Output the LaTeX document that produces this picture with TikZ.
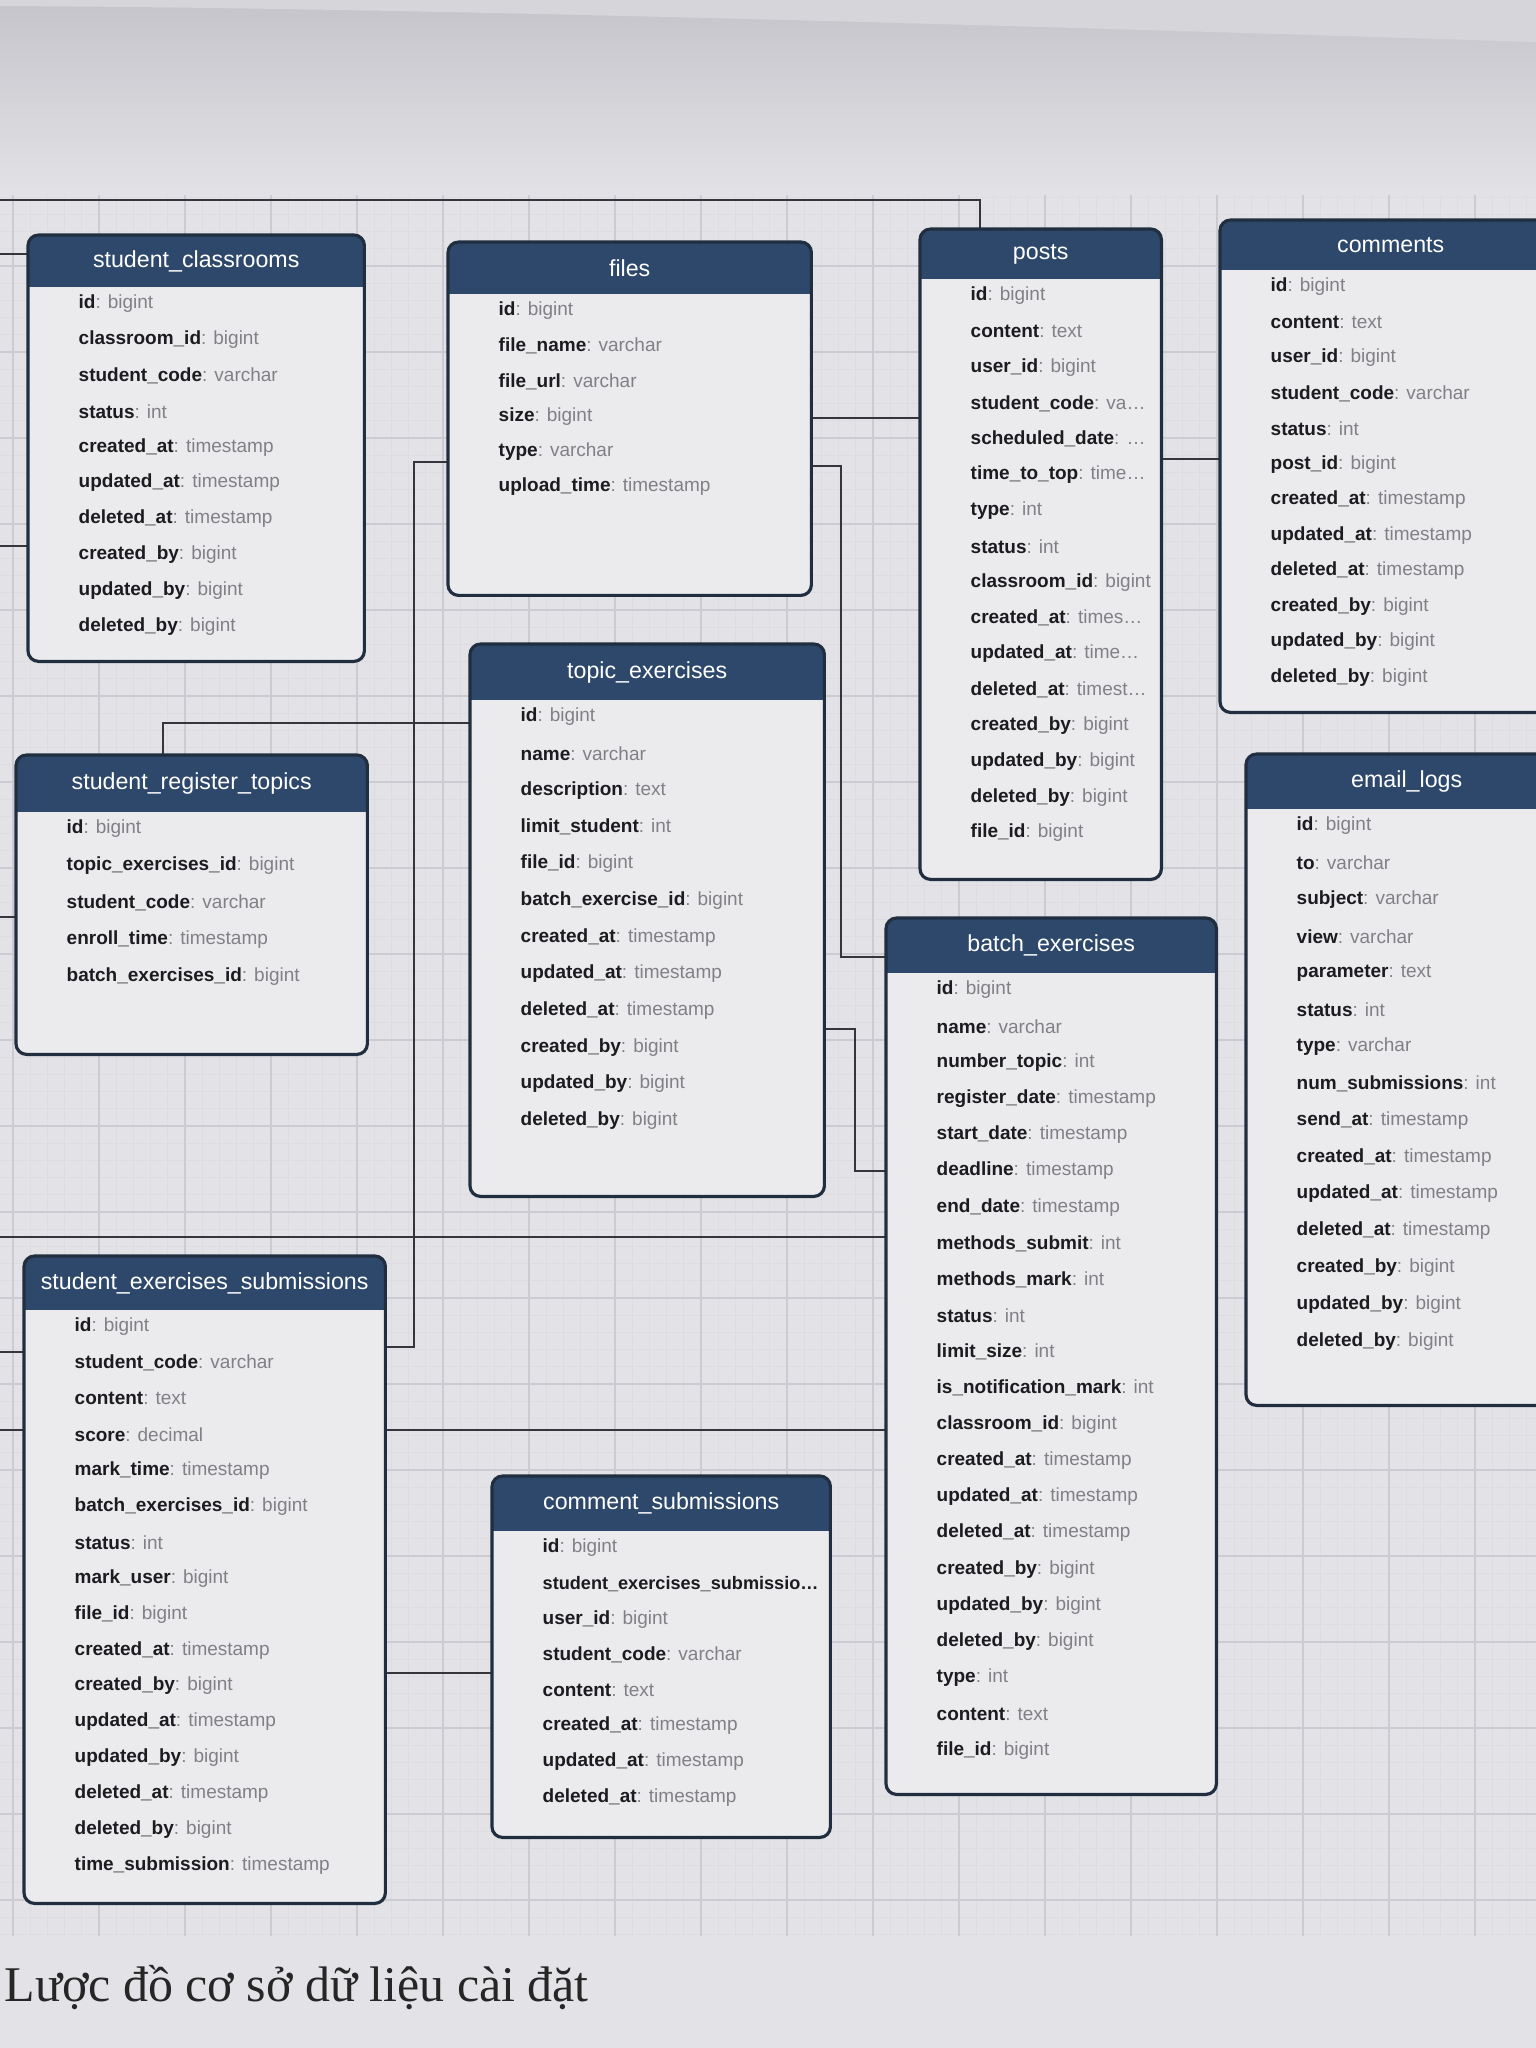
\documentclass[tikz,border=0pt]{standalone}
\usepackage{fontspec}
\setmainfont{Liberation Sans}
\newfontfamily\captionfont{Liberation Serif}
\usetikzlibrary{calc}

\definecolor{paper}{RGB}{227,227,231}
\definecolor{papertop}{RGB}{196,196,202}
\definecolor{paperedge}{RGB}{214,214,218}
\definecolor{boxfill}{RGB}{235,235,238}
\definecolor{headblue}{RGB}{45,72,106}
\definecolor{boxline}{RGB}{33,46,64}
\definecolor{namecol}{RGB}{28,28,32}
\definecolor{typecol}{RGB}{128,128,134}
\definecolor{gridminor}{RGB}{220,220,225}
\definecolor{gridmajor}{RGB}{203,203,209}
\definecolor{wire}{RGB}{52,54,60}

\pgfdeclarelayer{paperlayer}
\pgfdeclarelayer{wirelayer}
\pgfsetlayers{paperlayer,wirelayer,main}

\tikzset{
  tablebox/.style={rectangle, anchor=north west, inner sep=0pt, fill=boxfill, rounded corners=3pt},
  tableline/.style={draw=boxline, line width=0.9pt, rounded corners=3pt},
  tabletitle/.style={text=white, inner sep=0pt, font=\fontsize{6.6}{8}\selectfont},
  fieldtext/.style={anchor=west, inner sep=0pt, font=\fontsize{5.4}{6.5}\selectfont},
  conn/.style={draw=wire, line width=0.6pt},
}

% #1 name, #2 x, #3 y, #4 width, #5 height, #6 header, #7 row step, #8 title, #9 rows
\newcommand{\erdtable}[9]{%
  \node[tablebox, minimum width=#4*0.01cm, minimum height=#5*0.01cm] (#1) at (#2,#3) {};
  \begin{scope}
    \clip[rounded corners=3pt] (#1.north west) rectangle (#1.south east);
    \fill[headblue] (#1.north west) rectangle ($(#1.north east)+(0,#6)$);
  \end{scope}
  \draw[tableline] (#1.north west) rectangle (#1.south east);
  \node[tabletitle] at ($(#1.north)+(0,#6/2)$) {#8};
  \foreach \fname/\ftype [count=\rowno] in {#9}
    \node[fieldtext] at ($(#1.north west)+(50,#6+17+\rowno*#7-#7)$)
      {\textcolor{namecol}{\bfseries\fname}\ifx\ftype\empty\else\textcolor{typecol}{: \ftype}\fi};
}

\begin{document}
\begin{tikzpicture}[x=0.01cm, y=-0.01cm]
  \useasboundingbox (0,0) rectangle (1536,2048);
  \clip (0,0) rectangle (1536,2048);

  % Paper and grid
  \begin{pgfonlayer}{paperlayer}
    \fill[paper] (0,0) rectangle (1536,2048);
    \shade[top color=papertop, bottom color=paper] (0,0) rectangle (1536,200);
    \fill[paperedge] (0,0) -- (1536,0) -- (1536,42) .. controls (900,22) and (400,8) .. (0,6) -- cycle;
    \begin{scope}
      \clip (0,195) rectangle (1536,1935);
      \draw[gridminor, line width=0.3pt, shift={(13,8)}, step={(17.2,-17.2)}] (-86,1978) grid (1600,150);
      \draw[gridmajor, line width=0.5pt, shift={(13,8)}, step={(86,-86)}] (-86,1978) grid (1600,150);
    \end{scope}
  \end{pgfonlayer}

  % Tables
  \erdtable{sc}{28}{235}{335}{425}{52}{35.8}{student\_classrooms}
    {id/bigint, classroom\_id/bigint, student\_code/varchar, status/int, created\_at/timestamp,
     updated\_at/timestamp, deleted\_at/timestamp, created\_by/bigint, updated\_by/bigint, deleted\_by/bigint}
  \erdtable{files}{448}{242}{362}{352}{52}{35.2}{files}
    {id/bigint, file\_name/varchar, file\_url/varchar, size/bigint, type/varchar, upload\_time/timestamp}
  \erdtable{posts}{920}{229}{240}{649}{50}{35.8}{posts}
    {id/bigint, content/text, user\_id/bigint, student\_code/va…, scheduled\_date/…, time\_to\_top/time…,
     type/int, status/int, classroom\_id/bigint, created\_at/times…, updated\_at/time…, deleted\_at/timest…,
     created\_by/bigint, updated\_by/bigint, deleted\_by/bigint, file\_id/bigint}
  \erdtable{comments}{1220}{220}{340}{491}{50}{35.5}{comments}
    {id/bigint, content/text, user\_id/bigint, student\_code/varchar, status/int, post\_id/bigint,
     created\_at/timestamp, updated\_at/timestamp, deleted\_at/timestamp, created\_by/bigint,
     updated\_by/bigint, deleted\_by/bigint}
  \erdtable{srt}{16}{755}{350}{298}{57}{37}{student\_register\_topics}
    {id/bigint, topic\_exercises\_id/bigint, student\_code/varchar, enroll\_time/timestamp,
     batch\_exercises\_id/bigint}
  \erdtable{te}{470}{644}{353}{551}{56}{36.7}{topic\_exercises}
    {id/bigint, name/varchar, description/text, limit\_student/int, file\_id/bigint,
     batch\_exercise\_id/bigint, created\_at/timestamp, updated\_at/timestamp, deleted\_at/timestamp,
     created\_by/bigint, updated\_by/bigint, deleted\_by/bigint}
  \erdtable{be}{886}{918}{329}{875}{55}{36.2}{batch\_exercises}
    {id/bigint, name/varchar, number\_topic/int, register\_date/timestamp, start\_date/timestamp,
     deadline/timestamp, end\_date/timestamp, methods\_submit/int, methods\_mark/int, status/int,
     limit\_size/int, is\_notification\_mark/int, classroom\_id/bigint, created\_at/timestamp,
     updated\_at/timestamp, deleted\_at/timestamp, created\_by/bigint, updated\_by/bigint,
     deleted\_by/bigint, type/int, content/text, file\_id/bigint}
  \erdtable{el}{1246}{754}{320}{650}{55}{36.8}{email\_logs}
    {id/bigint, to/varchar, subject/varchar, view/varchar, parameter/text, status/int, type/varchar,
     num\_submissions/int, send\_at/timestamp, created\_at/timestamp, updated\_at/timestamp,
     deleted\_at/timestamp, created\_by/bigint, updated\_by/bigint, deleted\_by/bigint}
  \erdtable{ses}{24}{1256}{360}{646}{54}{35.9}{student\_exercises\_submissions}
    {id/bigint, student\_code/varchar, content/text, score/decimal, mark\_time/timestamp,
     batch\_exercises\_id/bigint, status/int, mark\_user/bigint, file\_id/bigint, created\_at/timestamp,
     created\_by/bigint, updated\_at/timestamp, updated\_by/bigint, deleted\_at/timestamp,
     deleted\_by/bigint, time\_submission/timestamp}
  \erdtable{cs}{492}{1476}{337}{360}{55}{35.6}{comment\_submissions}
    {id/bigint, {\fontsize{5.15}{6}\selectfont student\_exercises\_submissio…}/, user\_id/bigint,
     student\_code/varchar, content/text, created\_at/timestamp, updated\_at/timestamp, deleted\_at/timestamp}

  % Connectors
  \begin{pgfonlayer}{wirelayer}
    \coordinate (edgeA) at (0,200);
    \coordinate (bendA) at (980,200);
    \draw[conn] (edgeA) -- (bendA) -- (bendA |- posts.north);
    \coordinate (edgeB) at (0,254);
    \draw[conn] (edgeB) -- (edgeB -| sc.west);
    \coordinate (edgeC) at (0,546);
    \draw[conn] (edgeC) -- (edgeC -| sc.west);
    \coordinate (linkA) at (860,418);
    \draw[conn] (linkA -| files.east) -- (linkA -| posts.west);
    \coordinate (bendB) at (841,466);
    \coordinate (bendC) at (841,957);
    \draw[conn] (bendB -| files.east) -- (bendB) -- (bendC) -- (bendC -| be.west);
    \coordinate (bendD) at (414,462);
    \coordinate (bendE) at (414,1347);
    \draw[conn] (bendD -| files.west) -- (bendD) -- (bendE) -- (bendE -| ses.east);
    \coordinate (linkB) at (1190,459);
    \draw[conn] (linkB -| posts.east) -- (linkB -| comments.west);
    \coordinate (bendF) at (163,723);
    \draw[conn] (bendF |- srt.north) -- (bendF) -- (bendF -| te.west);
    \coordinate (edgeD) at (0,917);
    \draw[conn] (edgeD) -- (edgeD -| srt.west);
    \coordinate (bendG) at (855,1029);
    \coordinate (bendH) at (855,1171);
    \draw[conn] (bendG -| te.east) -- (bendG) -- (bendH) -- (bendH -| be.west);
    \coordinate (edgeE) at (0,1237);
    \draw[conn] (edgeE) -- (edgeE -| be.west);
    \coordinate (edgeF) at (0,1352);
    \draw[conn] (edgeF) -- (edgeF -| ses.west);
    \coordinate (edgeG) at (0,1430);
    \draw[conn] (edgeG) -- (edgeG -| ses.west);
    \draw[conn] (edgeG -| ses.east) -- (edgeG -| be.west);
    \coordinate (linkC) at (440,1673);
    \draw[conn] (linkC -| ses.east) -- (linkC -| cs.west);
  \end{pgfonlayer}

  % Caption
  \node[anchor=base west, inner sep=0pt, text=black!85, font=\captionfont\fontsize{14.2}{17}\selectfont]
    (caption) at (4,2001) {Lược đồ cơ sở dữ liệu cài đặt};
\end{tikzpicture}
\end{document}
